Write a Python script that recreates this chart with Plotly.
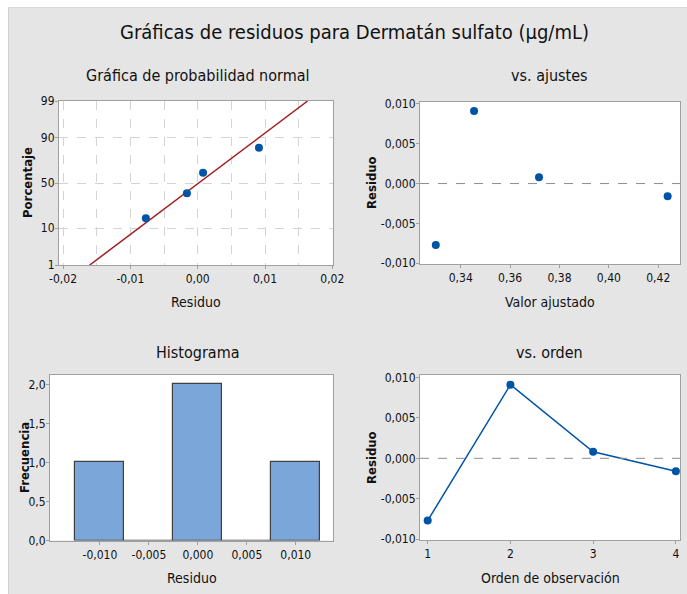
import numpy as np
import plotly.graph_objects as go
from statistics import NormalDist

# ---- data ----
orden = [1, 2, 3, 4]
ajustados = [0.3299, 0.3454, 0.3717, 0.4238]
residuos = [-0.0077, 0.0091, 0.0008, -0.0016]

bordes_hist = [-0.0125, -0.0075, -0.0025, 0.0025, 0.0075, 0.0125]

ticks_prob = [1, 10, 50, 90, 99]
ticks_res_x = [-0.02, -0.01, 0.0, 0.01, 0.02]
ticks_res_y = [-0.010, -0.005, 0.0, 0.005, 0.010]
ticks_ajuste = [0.34, 0.36, 0.38, 0.40, 0.42]
ticks_hist_x = [-0.010, -0.005, 0.0, 0.005, 0.010]
ticks_frec = [0.0, 0.5, 1.0, 1.5, 2.0]

# ---- page geometry ----
W, H = 687, 594
FONT = "Liberation Sans Narrow, DejaVu Sans Condensed, Arial Narrow, sans-serif"
AZUL = "#0054A6"
ROJO = "#A11D1D"
GRIS_FONDO = "#E5E5E5"
MARCO = "#A0A0A0"
TEXTO = "#111111"


def fx(px):
    return px / W


def fy(py):
    return 1 - py / H


def fmt(v, d):
    s = f"{v:.{d}f}".replace(".", ",")
    return s[1:] if s.startswith("-") and float(v) == 0 else s


nd = NormalDist()

# normal probability plot values
res_ord = np.sort(residuos)
n = len(res_ord)
pct = [(i + 1 - 0.3) / (n + 0.4) for i in range(n)]
z_pts = [nd.inv_cdf(p) for p in pct]
media = float(np.mean(residuos))
desv = float(np.std(residuos, ddof=1))
z_lin = [nd.inv_cdf(0.01), nd.inv_cdf(0.99)]
x_lin = [media + desv * z for z in z_lin]

# histogram counts
cuentas, _ = np.histogram(residuos, bins=bordes_hist)
centros = [(a + b) / 2 for a, b in zip(bordes_hist[:-1], bordes_hist[1:])]
anchos = list(np.diff(bordes_hist))

fig = go.Figure()

fig.add_trace(go.Scatter(x=x_lin, y=z_lin, mode="lines",
                         line=dict(color=ROJO, width=1.5),
                         xaxis="x", yaxis="y", showlegend=False))
fig.add_trace(go.Scatter(x=res_ord, y=z_pts, mode="markers",
                         marker=dict(color=AZUL, size=8),
                         xaxis="x", yaxis="y", showlegend=False))

fig.add_trace(go.Scatter(x=ajustados, y=residuos, mode="markers",
                         marker=dict(color=AZUL, size=8),
                         xaxis="x2", yaxis="y2", showlegend=False))

fig.add_trace(go.Bar(x=centros, y=cuentas, width=anchos,
                     marker=dict(color="#7BA6DA",
                                 line=dict(color="#404040", width=1.2)),
                     xaxis="x3", yaxis="y3", showlegend=False))

fig.add_trace(go.Scatter(x=orden, y=residuos, mode="lines+markers",
                         line=dict(color=AZUL, width=1.5),
                         marker=dict(color=AZUL, size=8),
                         xaxis="x4", yaxis="y4", showlegend=False))

eje = dict(showline=True, linecolor=MARCO, linewidth=1, mirror=True,
           ticks="outside", ticklen=3, tickcolor=MARCO, showgrid=False,
           zeroline=False, automargin=False, ticklabelstandoff=-2,
           tickfont=dict(family=FONT, size=12, color=TEXTO),
           fixedrange=True)
eje_x = dict(eje, ticklabelstandoff=0)

paneles = {
    1: (59, 333, 101, 265),
    2: (420, 680, 101.5, 264),
    3: (50, 333, 375, 540.5),
    4: (420, 680, 375, 540),
}


def dom(k):
    x0, x1, y0, y1 = paneles[k]
    return [fx(x0), fx(x1)], [fy(y1), fy(y0)]


d1x, d1y = dom(1)
d2x, d2y = dom(2)
d3x, d3y = dom(3)
d4x, d4y = dom(4)

grid = dict(showgrid=True, gridcolor="#D4D4D4", griddash="dash", gridwidth=1)

fig.update_layout(
    xaxis=dict(eje_x, domain=d1x, anchor="y", range=[-0.0206, 0.0201],
               tickvals=ticks_res_x, ticktext=[fmt(v, 2) for v in ticks_res_x],
               **grid, minor=dict(dtick=0.005, tick0=0, showgrid=True,
                                  gridcolor="#D4D4D4", griddash="dash", ticks="")),
    yaxis=dict(eje, domain=d1y, anchor="x",
               range=[nd.inv_cdf(0.01), nd.inv_cdf(0.99)],
               tickvals=[nd.inv_cdf(p / 100) for p in ticks_prob],
               ticktext=[str(p) for p in ticks_prob], **grid),
    xaxis2=dict(eje_x, domain=d2x, anchor="y2", range=[0.3235, 0.4288],
                tickvals=ticks_ajuste, ticktext=[fmt(v, 2) for v in ticks_ajuste]),
    yaxis2=dict(eje, domain=d2y, anchor="x2", range=[-0.0101, 0.0103],
                tickvals=ticks_res_y, ticktext=[fmt(v, 3) for v in ticks_res_y]),
    xaxis3=dict(eje_x, domain=d3x, anchor="y3", range=[-0.0151, 0.0138],
                tickvals=ticks_hist_x, ticktext=[fmt(v, 3) for v in ticks_hist_x]),
    yaxis3=dict(eje, domain=d3y, anchor="x3", range=[0, 2.12],
                tickvals=ticks_frec, ticktext=[fmt(v, 1) for v in ticks_frec]),
    xaxis4=dict(eje_x, domain=d4x, anchor="y4", range=[0.907, 4.05],
                tickvals=orden, ticktext=[str(v) for v in orden]),
    yaxis4=dict(eje, domain=d4y, anchor="x4", range=[-0.0101, 0.0103],
                tickvals=ticks_res_y, ticktext=[fmt(v, 3) for v in ticks_res_y]),
    bargap=0,
    width=W, height=H,
    margin=dict(l=0, r=0, t=0, b=0),
    paper_bgcolor=GRIS_FONDO,
    plot_bgcolor="white",
    font=dict(family=FONT, color=TEXTO),
)

# white border strip around the grey page plus its darker edge
fig.add_shape(type="rect", xref="paper", yref="paper", x0=0, x1=1,
              y0=fy(7), y1=1, fillcolor="white", line_width=0, layer="below")
fig.add_shape(type="rect", xref="paper", yref="paper", x0=0, x1=fx(8),
              y0=0, y1=1, fillcolor="white", line_width=0, layer="below")
fig.add_shape(type="line", xref="paper", yref="paper", x0=fx(8.5), x1=fx(8.5),
              y0=0, y1=fy(7), line=dict(color="#D0D0D0", width=1), layer="below")
fig.add_shape(type="line", xref="paper", yref="paper", x0=fx(8), x1=1,
              y0=fy(7.5), y1=fy(7.5), line=dict(color="#D8D8D8", width=1), layer="below")

# zero reference lines
for xa, ya in (("x2", "y2"), ("x4", "y4")):
    fig.add_shape(type="line", xref=f"{xa} domain", yref=ya, x0=0, x1=1, y0=0, y1=0,
                  line=dict(color="#8C8C8C", width=1, dash="dash"))


def texto(t, x, y, size, angle=0, bold=False):
    fig.add_annotation(text=f"<b>{t}</b>" if bold else t, x=fx(x), y=fy(y),
                       xref="paper", yref="paper", showarrow=False,
                       xanchor="center", yanchor="middle", textangle=angle,
                       font=dict(family=FONT, size=size, color=TEXTO))


texto("Gráficas de residuos para Dermatán sulfato (µg/mL)", 354, 32, 20)
texto("Gráfica de probabilidad normal", 198, 75, 16)
texto("vs. ajustes", 549, 75, 16)
texto("Histograma", 198, 352, 16)
texto("vs. orden", 549, 352, 16)

texto("Residuo", 196, 302, 14)
texto("Valor ajustado", 550, 302, 14)
texto("Residuo", 192, 578, 14)
texto("Orden de observación", 550, 578, 14)

texto("Porcentaje", 27, 183, 13, -90, True)
texto("Residuo", 371, 183, 13, -90, True)
texto("Frecuencia", 24, 458, 13, -90, True)
texto("Residuo", 371, 458, 13, -90, True)

fig.write_html("out.html")
